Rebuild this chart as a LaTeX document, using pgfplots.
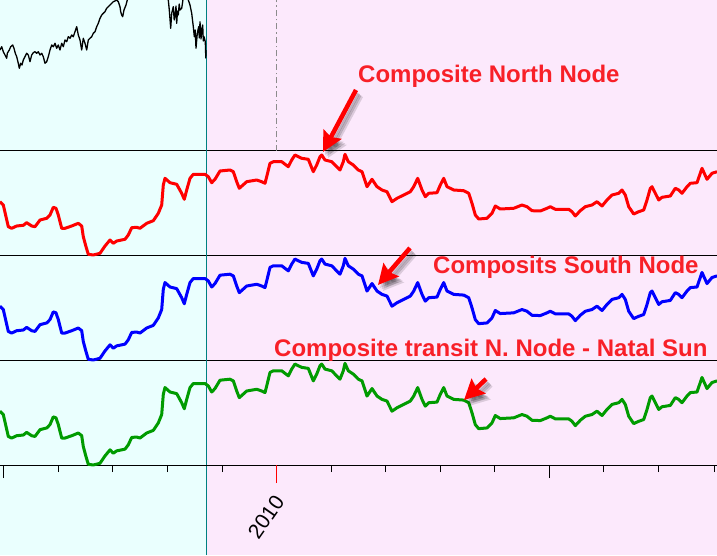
\documentclass[border=0pt]{standalone}
\usepackage{fontspec}
\setmainfont{Liberation Sans}
\usepackage{pgfplots}
\usepackage{pgfplotstable}
\pgfplotsset{compat=1.18}
\usetikzlibrary{arrows.meta}

\definecolor{bgcyan}{RGB}{234,255,254}
\definecolor{bgpink}{RGB}{252,233,252}
\definecolor{splitteal}{RGB}{0,128,128}
\definecolor{nodered}{RGB}{255,0,0}
\definecolor{nodeblue}{RGB}{0,0,255}
\definecolor{nodegreen}{RGB}{0,155,0}
\definecolor{notered}{RGB}{248,32,40}

% price (top panel), x in chart px, v = height above panel floor
\pgfplotstableread{
x v
0 101
1.7 104.3
3.3 99.3
5 96
6.7 92.7
7.3 97.7
9.3 101
10.7 104.3
12.7 106
14 102.7
15.3 97.7
16.7 94.3
18.3 87.7
19.3 82.7
20.7 87.7
22 86
23.3 91
25 94.3
26.7 97.7
28.3 96
30 89.3
31.7 96
33.3 98.3
35 99.3
36.7 97.7
38.3 99.3
40 96
41.7 97.7
43.3 94.3
45 87.7
46.7 89.3
48.3 94.3
50 101
51.7 106
53.3 104.3
55 107.7
56.7 102.7
58.3 106
60 101
61.7 107.7
63.3 104.3
65 111
66.7 109.3
68.3 114.3
70 112.7
71.7 116
73.3 114.3
75 119.3
76.7 124.3
78.3 116
80 111
81.7 101
83.3 112.7
85 107.7
86.7 101
88.3 111
90 112.7
91.7 114.3
93.3 117.7
95 119.3
96.7 124.3
98.3 127.7
100 132.7
101.7 136
103.3 137.7
105 139.3
106.7 142.7
108.3 144.3
110 146
111.7 147.7
113.3 149.3
115 150
116.7 151
118.3 149.3
120 144.3
120.7 139.3
121.7 136
122.7 134.3
124 141
126 146
127.3 151
130 171
140 181
146.7 153
148.3 176
160 181
166.7 161
168.3 151
169.3 141
170.7 122.7
171.7 137.7
173.3 144.3
174.2 131
175 134.3
176 145
176.7 127.7
177.5 140
178.3 136
179.2 147
180 141
181.7 142.7
182.7 149.3
184 161
186.7 161
188.3 151
190 146
191.7 137.7
193.3 124.3
194.3 114.3
195.2 121
196 102.7
197.3 117.7
198.7 124.3
199.3 113
200 129.3
201 112
201.7 121
202.7 126
203.3 110
204 114.3
205.3 109.3
205.8 93
206 101
}\pricetab

% composite node oscillator, v = height above panel floor
\pgfplotstableread{
x v
0 53.3
3.3 50
8.3 28.3
11.7 26.7
16.7 29
23.3 29.7
26.7 32.3
31.7 29
35 28.3
40 35
46.7 36.7
50 40
53.3 47.7
56 46.7
58.3 40
61.7 26.7
65 26.7
71.7 29
78.3 31.7
81.7 29
83.3 18.3
86 8.3
88.3 0.7
93.3 0
100 1.7
105 9
110 15
113.3 11.7
116.7 14
125 15.7
128.3 20
131.7 27.3
136.7 27.7
140 26.7
146.7 31.7
153.3 34.3
158.3 41.7
161.7 50
163.3 70
165 76.7
170 72.3
176.7 70.7
181.7 61.7
184.3 55.7
186.7 65
190 76.7
193.3 80.7
205 80.7
208.3 78.3
211.7 72.3
215 75.7
220 84
230 85
233.3 83.3
236.7 73.3
239.3 66.7
246.7 73.3
256.7 75
261.7 73.3
265 71.7
266.7 78.3
270 91.7
273.3 93.3
281.7 93.3
288.3 88.3
291.7 95
295 100
298.3 98.3
301.7 96.7
308.3 95.7
313.3 83.3
316.7 90
320 98.3
321.7 100
325 95
331.7 93.3
336.7 88.3
340 85
343.3 93.3
345 100.7
348.3 93.3
353.3 90
358.3 85
362 83.3
367 68.3
372 75.7
377 68.3
382 65
387 63.3
392 53.3
397 56.7
403.7 60
410.3 63.3
413.7 68.3
417.7 76.7
422 65
425.3 58.3
428.7 61.7
437 62.3
440.3 70
443.7 76.7
447 68.3
453.7 65
463.7 64.3
468.7 61.7
472 51.7
475.3 40
478.7 36
487 36.7
492 41.7
495.3 49
500.3 46
513.7 46.7
522 50
527 48.3
532 44.3
540.3 44
547 46.7
550.3 48.3
555.3 45.7
568.7 45.7
572 43.3
575.3 39
580.3 44.3
585.3 48.3
592 50
597 53.3
602 49
607 55
612 60
618.7 61.7
622 65
625.3 60
628.7 48.3
633.7 41
638.7 43.3
643.7 45
647 55
650.3 66.7
652 68.3
658.7 55
662 57.7
670.3 59
675.3 66.7
678.7 65
682 61.7
687 68.3
690.3 71.7
697 72.3
702 86.7
707 75.7
712 81.7
717 83.3
}\nodetab

\pgfplotsset{
  panel/.style={scale only axis, width=717pt, xmin=0, xmax=717,
    anchor=south west},
  nodeline/.style={line width=3pt, line join=round, no markers},
}

\tikzset{
  note/.style={anchor=base west, inner sep=0pt, text=notered,
    font=\fontsize{24pt}{28pt}\selectfont\bfseries},
  pointer/.style={line width=4.5pt, -{Stealth[length=20pt,width=20pt,inset=3pt]}},
}
\newcommand{\shadowarrow}[4]{%
  \foreach \dx/\dy in {2/-3,3.5/-4.5,5/-6}
    \draw[pointer, draw=black, fill=black, opacity=0.13]
      (#1pt+\dx pt,#2pt+\dy pt) -- (#3pt+\dx pt,#4pt+\dy pt);
  \draw[pointer, draw=red, fill=red] (#1pt,#2pt) -- (#3pt,#4pt);}

\begin{document}
\begin{tikzpicture}
% backgrounds and frame lines
\begin{axis}[panel, hide axis, at={(0pt,0pt)}, height=555pt, ymin=0, ymax=555]
  \fill[bgcyan] (axis cs:0,0) rectangle (axis cs:206.5,555);
  \fill[bgpink] (axis cs:206.5,0) rectangle (axis cs:717,555);
  \draw[black, line width=1pt] (axis cs:0,404) -- (axis cs:717,404);
  \draw[black, line width=1pt] (axis cs:0,300) -- (axis cs:717,300);
  \draw[black, line width=1pt] (axis cs:0,195) -- (axis cs:717,195);
  \draw[black!45, line width=1pt, dash pattern=on 6pt off 3pt on 1.5pt off 3pt]
    (axis cs:276,404) -- (axis cs:276,555);
  \draw[splitteal, line width=1pt] (axis cs:206.5,0) -- (axis cs:206.5,555);
\end{axis}

% price panel
\begin{axis}[panel, hide axis, at={(0pt,404pt)}, height=151pt, ymin=0, ymax=151]
  \addplot[black, line width=1.3pt, line join=round, no markers]
    table[x=x, y=v] {\pricetab};
\end{axis}

% composite north node
\begin{axis}[panel, hide axis, at={(0pt,300pt)}, height=104pt, ymin=0, ymax=104, clip=false]
  \addplot[nodeline, nodered] table[x=x, y=v] {\nodetab};
\end{axis}

% composite south node
\begin{axis}[panel, hide axis, at={(0pt,195pt)}, height=105pt, ymin=0, ymax=104, clip=false]
  \addplot[nodeline, nodeblue] table[x=x, y=v] {\nodetab};
\end{axis}

% composite transit N. node - natal sun, with the time axis
\begin{axis}[panel, at={(0pt,90pt)}, height=105pt, ymin=0, ymax=104, clip=false,
    axis x line=bottom, axis y line=none,
    x axis line style={-, line width=1pt, black},
    tick align=outside,
    xtick={3,549}, xticklabels={},
    minor xtick={58,112,167,222,331,385,440,494,603,658,714},
    major tick length=13pt, minor tick length=7pt,
    tick style={black, line width=1pt},
    extra x ticks={276}, extra x tick labels={},
    extra x tick style={major tick length=18pt, tick style={red, line width=1pt}}]
  \addplot[nodeline, nodegreen] table[x=x, y=v] {\nodetab};
\end{axis}

% year label
\node[rotate=55, inner sep=0pt, font=\fontsize{21pt}{24pt}\selectfont]
  at (266pt,38pt) {2010};

% annotations
\shadowarrow{356}{465}{323}{403}
\shadowarrow{410}{307}{378}{270}
\shadowarrow{486}{176}{464}{155}
\node[note] at (358pt,472pt) {Composite North Node};
\node[note] at (433pt,282pt) {Composits South Node};
\node[note] at (274pt,199pt) {Composite transit N. Node - Natal Sun};

\pgfresetboundingbox
\useasboundingbox (0pt,0pt) rectangle (717pt,555pt);
\end{tikzpicture}
\end{document}
